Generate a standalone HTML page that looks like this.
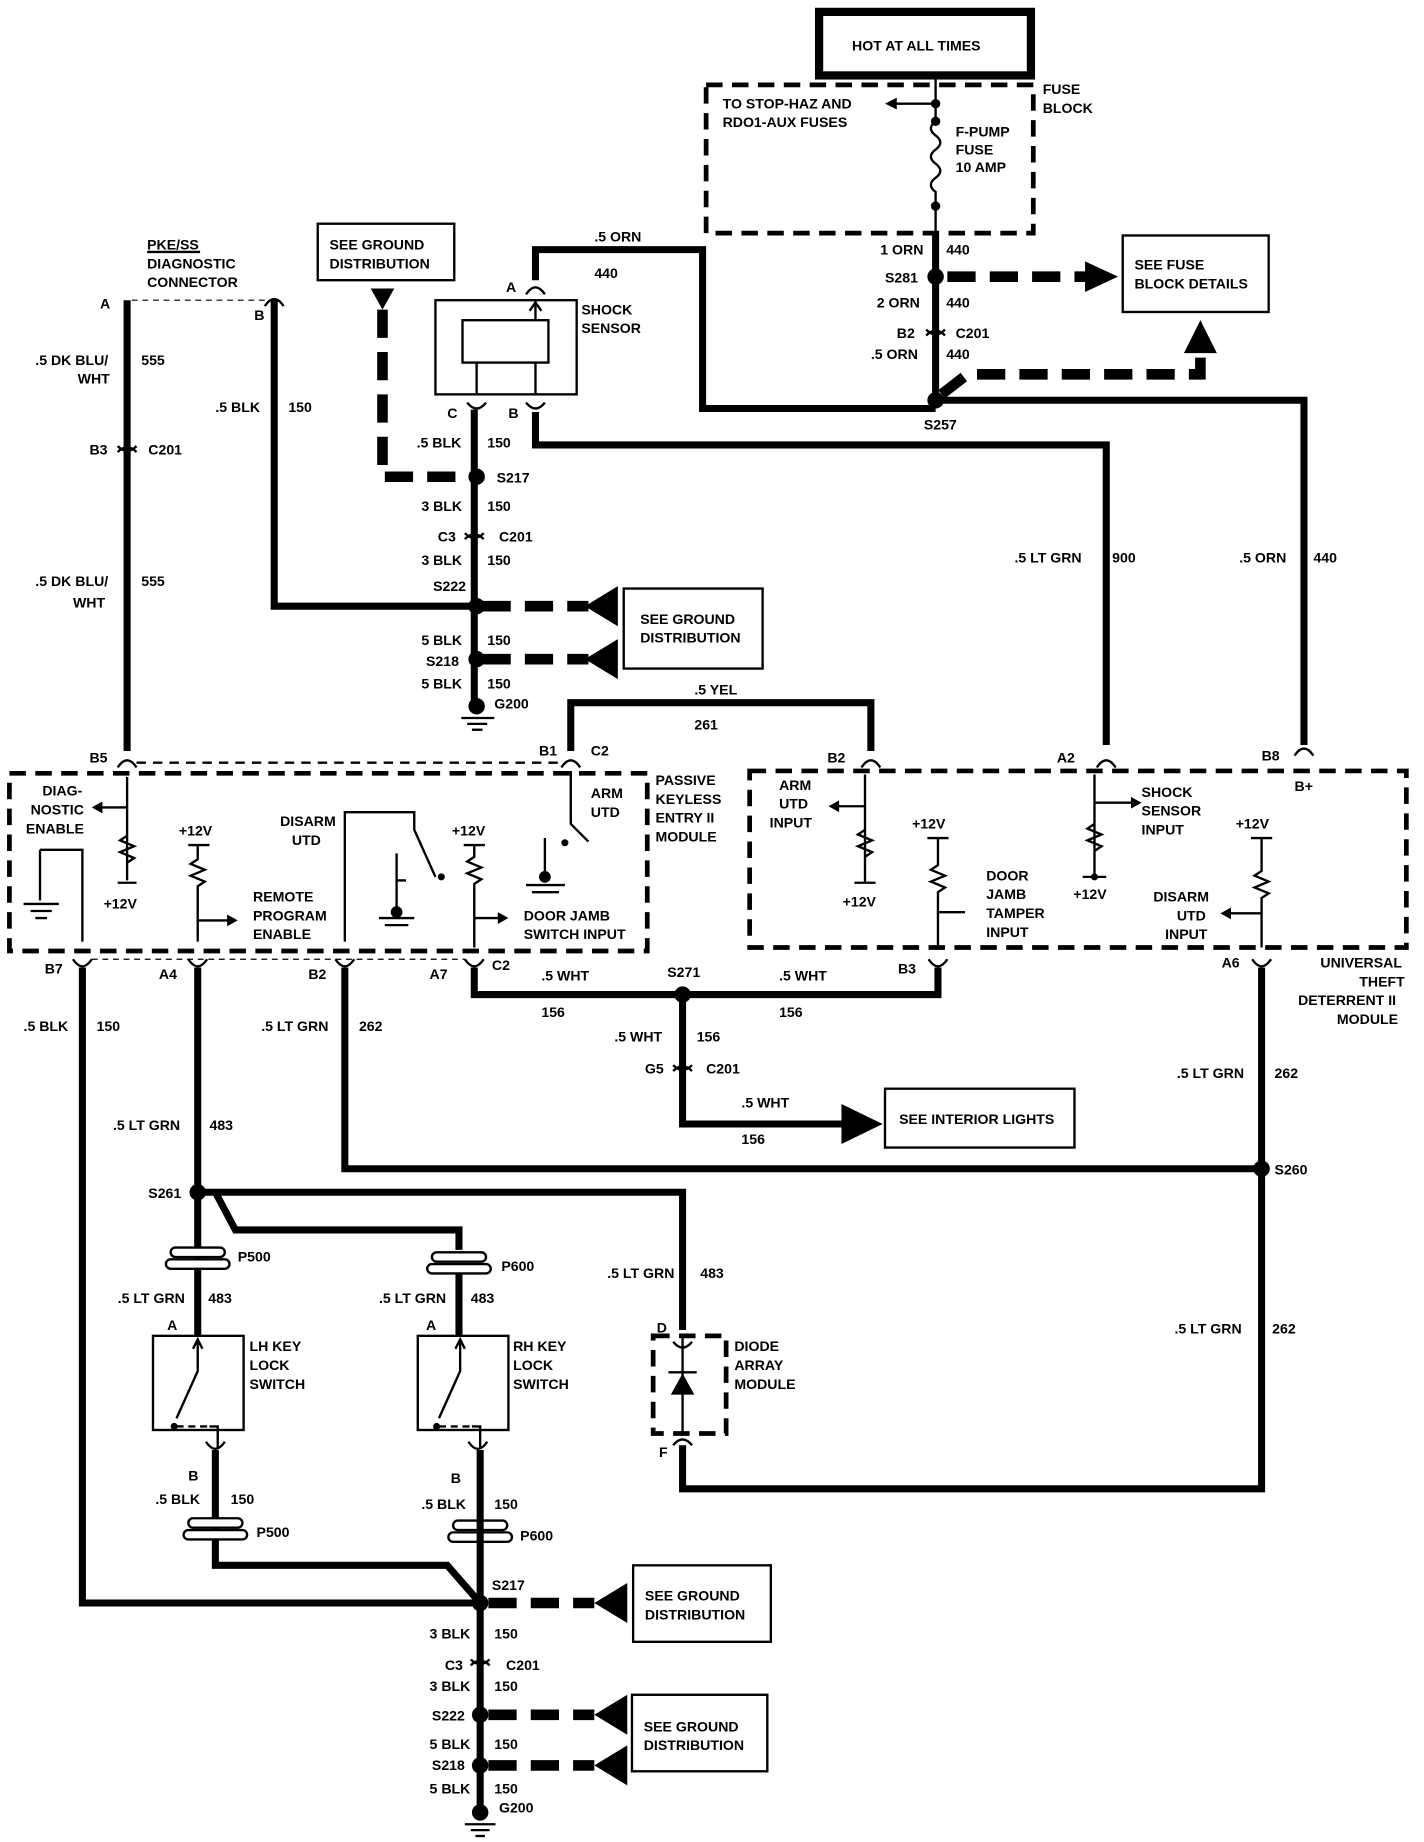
<!DOCTYPE html>
<html><head><meta charset="utf-8"><style>
html,body{margin:0;padding:0;background:#fff}
svg{display:block}
text{font-family:"Liberation Sans",sans-serif;font-weight:bold;font-size:12px;fill:#000}
.w{stroke:#000;stroke-width:6;fill:none}
.t{stroke:#000;stroke-width:2;fill:none}
.d{stroke:#000;stroke-width:4;fill:none;stroke-dasharray:14,8}
.dd{stroke:#000;stroke-width:9;fill:none;stroke-dasharray:24,12}
.b{stroke:#000;stroke-width:2;fill:#fff}
</style></head><body>
<svg width="1424" height="1842" viewBox="0 0 1210 1565" xmlns="http://www.w3.org/2000/svg">
<defs>
<marker id="ah" markerWidth="6" markerHeight="6" refX="3" refY="3" orient="auto"><path d="M0,0L6,3L0,6z"/></marker>
</defs>
<!-- top -->
<rect x="696" y="10" width="180" height="54" fill="#fff" stroke="#000" stroke-width="7"/>
<text x="724" y="43">HOT AT ALL TIMES</text>
<rect x="600" y="72" width="278" height="126" class="d" />
<text x="886" y="80">FUSE</text><text x="886" y="96">BLOCK</text>
<text x="614" y="92">TO STOP-HAZ AND</text><text x="614" y="108">RDO1-AUX FUSES</text>
<line x1="795" y1="64" x2="795" y2="103" class="t"/>
<path d="M795,103 q-8,6 0,12 q8,6 0,12 q-8,6 0,12 q8,6 0,12 q-8,6 0,12 l0,10" class="t"/>
<line x1="795" y1="175" x2="795" y2="205" class="t"/>
<line x1="795" y1="88" x2="760" y2="88" class="t"/><path d="M752,88l10,-5v10z"/>
<circle cx="795" cy="88" r="4"/><circle cx="795" cy="103" r="4"/><circle cx="795" cy="175" r="4"/>
<text x="812" y="116">F-PUMP</text><text x="812" y="131">FUSE</text><text x="812" y="146">10 AMP</text>
<line x1="795" y1="200" x2="795" y2="345" class="w"/>
<circle cx="795" cy="235" r="7"/>
<text x="748" y="216">1 ORN</text><text x="804" y="216">440</text>
<text x="752" y="240">S281</text>
<text x="745" y="261">2 ORN</text><text x="804" y="261">440</text>
<text x="762" y="287">B2</text><text x="812" y="287">C201</text>
<text x="740" y="305">.5 ORN</text><text x="804" y="305">440</text>
<path d="M787,285 q8,-8 16,0" class="t" stroke-width="3"/><path d="M787,280 q8,8 16,0" class="t" stroke-width="3"/>
<line x1="805" y1="235" x2="925" y2="235" class="dd"/><path d="M922,222l28,13l-28,13z"/>
<rect x="954" y="200" width="124" height="65" class="b"/>
<text x="964" y="229">SEE FUSE</text><text x="964" y="245">BLOCK DETAILS</text>
<path d="M800,335 L822,318 L1020,318 L1020,300" class="dd"/><path d="M1006,300l14,-28l14,28z"/>
<circle cx="795" cy="340" r="7"/><text x="785" y="365">S257</text>
<path d="M795,347 H597 V212 H455 V238" class="w"/>
<path d="M795,340 H1108 V633" class="w"/>
<text x="505" y="205">.5 ORN</text><text x="505" y="236">440</text>
<text x="430" y="248">A</text>
<path d="M447,250 q8,-12 16,0" class="t" stroke-width="3"/>
<!-- shock sensor -->
<rect x="370" y="255" width="120" height="80" class="b" stroke-width="3"/>
<rect x="393" y="272" width="73" height="36" class="b"/>
<line x1="455" y1="255" x2="455" y2="272" class="t"/><path d="M450,264l5,-7l5,7" class="t"/>
<line x1="405" y1="308" x2="405" y2="335" class="t"/><line x1="455" y1="308" x2="455" y2="335" class="t"/>
<text x="494" y="267">SHOCK</text><text x="494" y="283">SENSOR</text>
<text x="380" y="355">C</text><text x="432" y="355">B</text>
<path d="M397,342 q8,10 16,0 M447,342 q8,10 16,0" class="t" stroke-width="3"/>
<path d="M455,350 V378 H940 V633" class="w"/>
<text x="862" y="478">.5 LT GRN</text><text x="945" y="478">900</text>
<text x="1053" y="478">.5 ORN</text><text x="1116" y="478">440</text>
<!-- ground column -->
<line x1="403" y1="348" x2="403" y2="598" class="w"/>
<circle cx="405" cy="405" r="7"/><circle cx="405" cy="515" r="7"/><circle cx="405" cy="560" r="7"/><circle cx="405" cy="600" r="7"/>
<line x1="392" y1="610" x2="420" y2="610" class="t"/><line x1="397" y1="615" x2="414" y2="615" class="t"/><line x1="401" y1="620" x2="410" y2="620" class="t"/>
<text x="354" y="380">.5 BLK</text><text x="414" y="380">150</text>
<text x="422" y="410">S217</text>
<text x="358" y="434">3 BLK</text><text x="414" y="434">150</text>
<text x="372" y="460">C3</text><text x="424" y="460">C201</text>
<path d="M395,458 q8,-8 16,0 M395,453 q8,8 16,0" class="t" stroke-width="3"/>
<text x="358" y="480">3 BLK</text><text x="414" y="480">150</text>
<text x="368" y="502">S222</text>
<text x="358" y="548">5 BLK</text><text x="414" y="548">150</text>
<text x="362" y="566">S218</text>
<text x="358" y="585">5 BLK</text><text x="414" y="585">150</text>
<text x="420" y="602">G200</text>
<rect x="270" y="190" width="116" height="48" class="b"/>
<text x="280" y="212">SEE GROUND</text><text x="280" y="228">DISTRIBUTION</text>
<path d="M315,245h20l-10,18z"/>
<path d="M325,263 V405 H398" class="dd" stroke-width="7"/>
<path d="M233,255 V515 H403" class="w"/>
<path d="M225,260 q8,-12 16,0" class="t" stroke-width="3"/>
<text x="216" y="272">B</text>
<path d="M410,515 H500 M410,560 H500" class="dd"/>
<path d="M525,498v34l-28,-17z M525,543v34l-28,-17z"/>
<rect x="530" y="500" width="118" height="68" class="b"/>
<text x="544" y="530">SEE GROUND</text><text x="544" y="546">DISTRIBUTION</text>
<text x="183" y="350">.5 BLK</text><text x="245" y="350">150</text>
<!-- left diag wire -->
<text x="125" y="212">PKE/SS</text><text x="125" y="228">DIAGNOSTIC</text><text x="125" y="244">CONNECTOR</text>
<line x1="125" y1="214" x2="170" y2="214" class="t" stroke-width="1"/>
<text x="85" y="262">A</text>
<line x1="108" y1="255" x2="108" y2="638" class="w"/>
<line x1="112" y1="255" x2="233" y2="255" stroke="#000" stroke-dasharray="5,4"/>
<text x="30" y="310">.5 DK BLU/</text><text x="66" y="326">WHT</text><text x="120" y="310">555</text>
<text x="76" y="386">B3</text><text x="126" y="386">C201</text>
<path d="M100,384 q8,-8 16,0 M100,379 q8,8 16,0" class="t" stroke-width="3"/>
<text x="30" y="498">.5 DK BLU/</text><text x="62" y="516">WHT</text><text x="120" y="498">555</text>
<text x="76" y="648">B5</text>
<path d="M100,652 q8,-12 16,0" class="t" stroke-width="3"/>
<line x1="116" y1="648" x2="480" y2="648" class="t" stroke-width="3" stroke-dasharray="8,6"/>
<!-- yellow -->
<path d="M485,638 V597 H740 V638" class="w"/>
<text x="590" y="590">.5 YEL</text><text x="590" y="620">261</text>
<text x="458" y="642">B1</text><text x="502" y="642">C2</text>
<path d="M477,652 q8,-12 16,0 M732,652 q8,-12 16,0 M932,652 q8,-12 16,0 M1100,642 q8,-12 16,0" class="t" stroke-width="3"/>
<text x="703" y="648">B2</text><text x="898" y="648">A2</text><text x="1072" y="646">B8</text><text x="1100" y="672">B+</text>
<!-- PKE module -->
<rect x="8" y="657" width="542" height="151" class="d"/>
<text x="557" y="667">PASSIVE</text><text x="557" y="683">KEYLESS</text><text x="557" y="699">ENTRY II</text><text x="557" y="715">MODULE</text>
<text x="36" y="676">DIAG-</text><text x="26" y="692">NOSTIC</text><text x="22" y="708">ENABLE</text>
<path d="M108,660 V748 M108,686 H85" class="t"/><path d="M78,686l9,-5v10z"/>
<path d="M108,710 l-6,4 l12,5 l-12,5 l12,5 l-6,4" class="t"/>
<line x1="100" y1="750" x2="116" y2="750" class="t"/>
<text x="88" y="772">+12V</text>
<path d="M34,722 H70 V800" class="t"/><line x1="34" y1="722" x2="34" y2="765" class="t"/>
<line x1="20" y1="768" x2="50" y2="768" class="t" stroke-width="3"/><line x1="26" y1="774" x2="44" y2="774" class="t"/><line x1="30" y1="780" x2="40" y2="780" class="t"/>
<text x="152" y="710">+12V</text><line x1="160" y1="718" x2="178" y2="718" class="t"/>
<path d="M168,718 V730 l-6,4 l12,5 l-12,5 l12,5 l-6,4 V800 M168,782 H195" class="t"/><path d="M202,782l-9,-5v10z"/>
<text x="215" y="766">REMOTE</text><text x="215" y="782">PROGRAM</text><text x="215" y="798">ENABLE</text>
<text x="238" y="702">DISARM</text><text x="248" y="718">UTD</text>
<path d="M293,800 V690 H352 V705 L370,745" class="t"/>
<circle cx="375" cy="745" r="3"/>
<path d="M337,725 V775 M337,748 H345" class="t"/><circle cx="337" cy="775" r="5"/>
<line x1="322" y1="780" x2="352" y2="780" class="t"/><line x1="327" y1="786" x2="347" y2="786" class="t"/>
<text x="384" y="710">+12V</text><line x1="394" y1="718" x2="412" y2="718" class="t"/>
<path d="M403,718 V728 l-6,4 l12,5 l-12,5 l12,5 l-6,4 V805 M403,780 H425" class="t"/><path d="M432,780l-9,-5v10z"/>
<text x="445" y="782">DOOR JAMB</text><text x="445" y="798">SWITCH INPUT</text>
<path d="M485,655 V700 L500,715" class="t"/><text x="502" y="678">ARM</text><text x="502" y="694">UTD</text>
<circle cx="480" cy="716" r="3"/>
<path d="M463,712 V745" class="t"/><circle cx="463" cy="745" r="5"/>
<line x1="447" y1="752" x2="480" y2="752" class="t"/><line x1="452" y1="758" x2="475" y2="758" class="t"/>
<!-- UTD module -->
<rect x="637" y="655" width="558" height="150" class="d"/>
<text x="1122" y="822">UNIVERSAL</text><text x="1155" y="838">THEFT</text><text x="1103" y="854">DETERRENT II</text><text x="1136" y="870">MODULE</text>
<text x="662" y="671">ARM</text><text x="662" y="687">UTD</text><text x="654" y="703">INPUT</text>
<path d="M735,658 V750 M735,685 H712" class="t"/><path d="M704,685l9,-5v10z"/>
<path d="M735,705 l-6,4 l12,5 l-12,5 l12,5 l-6,4" class="t"/><line x1="726" y1="750" x2="744" y2="750" class="t"/>
<text x="716" y="770">+12V</text>
<text x="775" y="704">+12V</text><line x1="788" y1="712" x2="806" y2="712" class="t"/>
<path d="M797,712 V735 l-6,4 l12,5 l-12,5 l12,5 l-6,4 V805 M797,775 H820" class="t"/>
<text x="838" y="748">DOOR</text><text x="838" y="764">JAMB</text><text x="838" y="780">TAMPER</text><text x="838" y="796">INPUT</text>
<path d="M930,658 V745 M930,682 H962" class="t"/><path d="M970,682l-9,-5v10z"/>
<path d="M930,700 l-6,4 l12,5 l-12,5 l12,5 l-6,4" class="t"/><circle cx="930" cy="745" r="3"/>
<line x1="920" y1="745" x2="940" y2="745" class="t"/><text x="912" y="764">+12V</text>
<text x="970" y="677">SHOCK</text><text x="970" y="693">SENSOR</text><text x="970" y="709">INPUT</text>
<text x="1050" y="704">+12V</text><line x1="1063" y1="712" x2="1081" y2="712" class="t"/>
<path d="M1072,712 V740 l-6,4 l12,5 l-12,5 l12,5 l-6,4 V805 M1072,776 H1045" class="t"/><path d="M1037,776l9,-5v10z"/>
<text x="980" y="766">DISARM</text><text x="1000" y="782">UTD</text><text x="990" y="798">INPUT</text>
<!-- bottom pins -->
<path d="M62,815 q8,12 16,0 M160,815 q8,12 16,0 M285,815 q8,12 16,0 M395,815 q8,12 16,0 M789,815 q8,12 16,0 M1064,815 q8,12 16,0" class="t" stroke-width="3"/>
<line x1="78" y1="815" x2="395" y2="815" stroke="#000" stroke-dasharray="5,4"/>
<text x="38" y="827">B7</text><text x="135" y="832">A4</text><text x="262" y="832">B2</text><text x="365" y="832">A7</text><text x="418" y="824">C2</text><text x="763" y="827">B3</text><text x="1038" y="822">A6</text>
<path d="M70,822 V1362 H408" class="w"/>
<text x="20" y="876">.5 BLK</text><text x="82" y="876">150</text>
<line x1="168" y1="822" x2="168" y2="1013" class="w"/>
<text x="96" y="960">.5 LT GRN</text><text x="178" y="960">483</text>
<path d="M293,822 V993 H1072" class="w"/>
<text x="222" y="876">.5 LT GRN</text><text x="305" y="876">262</text>
<path d="M403,822 V845 H797 V822" class="w"/>
<circle cx="580" cy="845" r="7"/><text x="567" y="830">S271</text>
<text x="460" y="833">.5 WHT</text><text x="460" y="864">156</text><text x="662" y="833">.5 WHT</text><text x="662" y="864">156</text>
<path d="M580,845 V955 H720" class="w"/><path d="M715,938v34l35,-17z"/>
<text x="522" y="885">.5 WHT</text><text x="592" y="885">156</text>
<text x="548" y="912">G5</text><text x="600" y="912">C201</text>
<path d="M572,910 q8,-8 16,0 M572,905 q8,8 16,0" class="t" stroke-width="3"/>
<text x="630" y="941">.5 WHT</text><text x="630" y="972">156</text>
<rect x="752" y="925" width="161" height="50" class="b"/><text x="764" y="955">SEE INTERIOR LIGHTS</text>
<path d="M1072,822 V1265 H580 V1228" class="w"/>
<circle cx="1072" cy="993" r="7"/><text x="1083" y="998">S260</text>
<text x="1000" y="916">.5 LT GRN</text><text x="1083" y="916">262</text>
<text x="998" y="1133">.5 LT GRN</text><text x="1081" y="1133">262</text>
<!-- S261 -->
<circle cx="168" cy="1013" r="7"/><text x="126" y="1018">S261</text>
<path d="M168,1013 H580 V1130" class="w"/>
<path d="M183,1013 L200,1045 H390 V1062" class="w"/>
<line x1="168" y1="1013" x2="168" y2="1135" class="w"/>
<rect x="145" y="1060" width="46" height="8" rx="4" class="b"/><rect x="141" y="1070" width="54" height="8" rx="4" class="b"/>
<text x="202" y="1072">P500</text>
<rect x="367" y="1064" width="46" height="8" rx="4" class="b"/><rect x="363" y="1074" width="54" height="8" rx="4" class="b"/>
<text x="426" y="1080">P600</text>
<line x1="390" y1="1082" x2="390" y2="1135" class="w"/>
<text x="100" y="1107">.5 LT GRN</text><text x="177" y="1107">483</text>
<text x="322" y="1107">.5 LT GRN</text><text x="400" y="1107">483</text>
<text x="516" y="1086">.5 LT GRN</text><text x="595" y="1086">483</text>
<!-- LH switch -->
<text x="142" y="1130">A</text><text x="362" y="1130">A</text>
<rect x="130" y="1135" width="77" height="80" class="b" stroke-width="3"/>
<rect x="355" y="1135" width="77" height="80" class="b" stroke-width="3"/>
<path d="M168,1138 V1165 L150,1205 M178,1212 H185 V1230 M391,1138 V1165 L373,1205 M401,1212 H408 V1230" class="t"/>
<path d="M164,1146l4,-8l4,8 M387,1146l4,-8l4,8" class="t"/>
<circle cx="148" cy="1212" r="3"/><circle cx="371" cy="1212" r="3"/>
<line x1="150" y1="1212" x2="178" y2="1212" class="t" stroke-dasharray="6,4"/><line x1="373" y1="1212" x2="401" y2="1212" class="t" stroke-dasharray="6,4"/>
<text x="212" y="1148">LH KEY</text><text x="212" y="1164">LOCK</text><text x="212" y="1180">SWITCH</text>
<text x="436" y="1148">RH KEY</text><text x="436" y="1164">LOCK</text><text x="436" y="1180">SWITCH</text>
<text x="160" y="1258">B</text><text x="383" y="1260">B</text>
<path d="M175,1225 q8,12 16,0 M398,1225 q8,12 16,0" class="t" stroke-width="3"/>
<path d="M183,1232 V1330 H380 L408,1362" class="w"/>
<rect x="160" y="1290" width="46" height="8" rx="4" class="b"/><rect x="156" y="1300" width="54" height="8" rx="4" class="b"/>
<text x="218" y="1306">P500</text>
<rect x="385" y="1292" width="46" height="8" rx="4" class="b"/><rect x="381" y="1302" width="54" height="8" rx="4" class="b"/>
<text x="442" y="1309">P600</text>
<text x="132" y="1278">.5 BLK</text><text x="196" y="1278">150</text>
<text x="358" y="1282">.5 BLK</text><text x="420" y="1282">150</text>
<line x1="408" y1="1232" x2="408" y2="1540" class="w"/>
<!-- diode -->
<rect x="555" y="1135" width="62" height="83" class="d" stroke-width="3"/>
<text x="558" y="1132">D</text><text x="560" y="1238">F</text>
<text x="624" y="1148">DIODE</text><text x="624" y="1164">ARRAY</text><text x="624" y="1180">MODULE</text>
<path d="M580,1135 V1218" class="t"/><path d="M570,1185h20l-10,-18z"/><line x1="568" y1="1166" x2="592" y2="1166" class="t" stroke-width="3"/>
<path d="M572,1140 q8,10 16,0 M572,1228 q8,-10 16,0" class="t" stroke-width="3"/>
<!-- bottom ground column -->
<circle cx="408" cy="1362" r="7"/><circle cx="408" cy="1457" r="7"/><circle cx="408" cy="1500" r="7"/><circle cx="408" cy="1540" r="7"/>
<line x1="395" y1="1550" x2="421" y2="1550" class="t"/><line x1="400" y1="1555" x2="416" y2="1555" class="t"/><line x1="404" y1="1560" x2="412" y2="1560" class="t"/>
<text x="418" y="1351">S217</text>
<text x="365" y="1392">3 BLK</text><text x="420" y="1392">150</text>
<text x="378" y="1419">C3</text><text x="430" y="1419">C201</text>
<path d="M400,1415 q8,-8 16,0 M400,1410 q8,8 16,0" class="t" stroke-width="3"/>
<text x="365" y="1437">3 BLK</text><text x="420" y="1437">150</text>
<text x="367" y="1462">S222</text>
<text x="365" y="1486">5 BLK</text><text x="420" y="1486">150</text>
<text x="367" y="1504">S218</text>
<text x="365" y="1524">5 BLK</text><text x="420" y="1524">150</text>
<text x="424" y="1540">G200</text>
<path d="M415,1362 H505 M415,1457 H505 M415,1500 H505" class="dd"/>
<path d="M533,1345v34l-28,-17z M533,1440v34l-28,-17z M533,1483v34l-28,-17z"/>
<rect x="538" y="1330" width="117" height="65" class="b"/>
<text x="548" y="1360">SEE GROUND</text><text x="548" y="1376">DISTRIBUTION</text>
<rect x="537" y="1440" width="115" height="65" class="b"/>
<text x="547" y="1471">SEE GROUND</text><text x="547" y="1487">DISTRIBUTION</text>
</svg>
</body></html>
